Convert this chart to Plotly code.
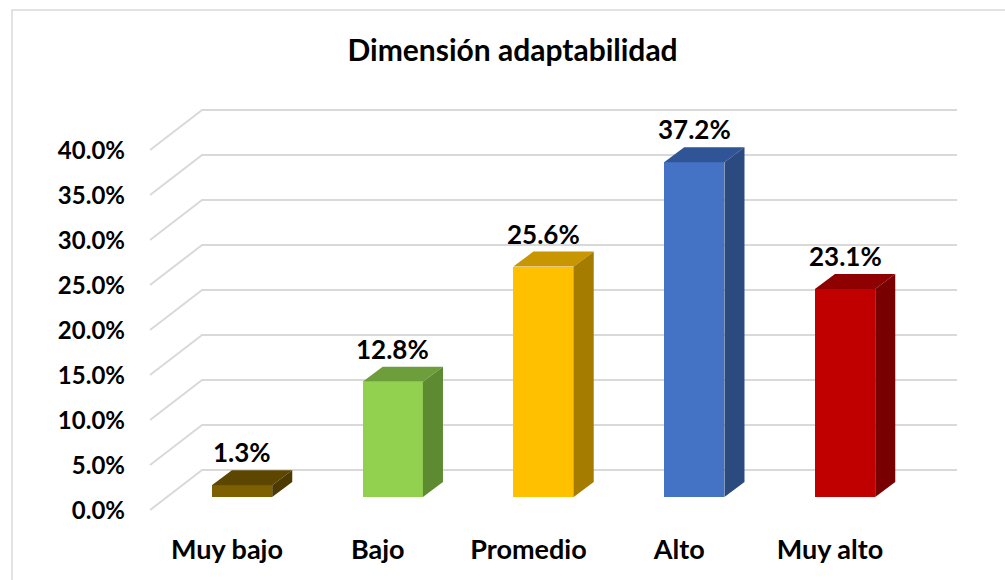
import plotly.graph_objects as go

# ---- data ----
categories = ["Muy bajo", "Bajo", "Promedio", "Alto", "Muy alto"]
values = [1.3, 12.8, 25.6, 37.2, 23.1]
y_ticks = [0, 5, 10, 15, 20, 25, 30, 35, 40]
title_text = "Dimensión adaptabilidad"

# ---- styles ----
front_colors = ["#7F6000", "#92D050", "#FFC000", "#4472C4", "#C00000"]
top_colors = ["#5C4600", "#6E9E3C", "#C89600", "#2F5597", "#8F0000"]
side_colors = ["#4D3A00", "#5E8A32", "#A67C00", "#2A4A80", "#780000"]
FONT = "Lato, 'Open Sans', sans-serif"
GRID = "#D9D9D9"

W, H = 1005, 580
ML, MR, MT, MB = 130, 30, 100, 55
BAR_W = 0.4
DX, DY = 0.133, 1.67          # depth offset (x units, % units)
XR = [-0.743, 4.862]
YR = [-3.111, 44.111]
# wall / floor geometry in data units
X_FRONT, X_BACK, X_END = -0.61, -0.265, 4.743
FRONT_OFF, BACK_OFF = -1.444, 3.0

xs = list(range(len(categories)))

fig = go.Figure()
fig.add_trace(go.Bar(
    x=xs, y=values, width=BAR_W,
    marker=dict(color=front_colors, line=dict(width=0)),
    hoverinfo="skip", showlegend=False,
))

shapes = []
# back wall gridlines with diagonal side-wall part
for t in y_ticks:
    shapes.append(dict(
        type="path", xref="x", yref="y", layer="below",
        path=f"M {X_FRONT},{t + FRONT_OFF} L {X_BACK},{t + BACK_OFF} L {X_END},{t + BACK_OFF}",
        line=dict(color=GRID, width=2),
    ))

# 3D faces of bars
for x, v, tc, sc in zip(xs, values, top_colors, side_colors):
    l, r = x - BAR_W / 2, x + BAR_W / 2
    shapes.append(dict(
        type="path", xref="x", yref="y", layer="above",
        path=f"M {l},{v} L {r},{v} L {r + DX},{v + DY} L {l + DX},{v + DY} Z",
        fillcolor=tc, line=dict(width=0),
    ))
    shapes.append(dict(
        type="path", xref="x", yref="y", layer="above",
        path=f"M {r},0 L {r},{v} L {r + DX},{v + DY} L {r + DX},{DY} Z",
        fillcolor=sc, line=dict(width=0),
    ))

# chart border
pw, ph = W - ML - MR, H - MT - MB
def px_x(p):
    return (p - ML) / pw
def px_y(p):
    return (H - MB - p) / ph
shapes.append(dict(
    type="rect", xref="paper", yref="paper", layer="below",
    x0=px_x(12), x1=px_x(W + 10), y0=px_y(H + 10), y1=px_y(10),
    line=dict(color=GRID, width=1.5), fillcolor="rgba(0,0,0,0)",
))

annotations = []
for x, v in zip(xs, values):
    annotations.append(dict(
        x=x, y=v + DY, xref="x", yref="y", text=f"{v:.1f}%",
        showarrow=False, yanchor="bottom", xanchor="center", yshift=0,
        font=dict(family=FONT, size=26, color="#000000", weight="bold"),
    ))

fig.update_layout(
    width=W, height=H,
    margin=dict(l=ML, r=MR, t=MT, b=MB),
    paper_bgcolor="white", plot_bgcolor="white",
    title=dict(
        text=f"<b>{title_text}</b>", x=0.510, xanchor="center",
        y=1 - 50 / H, yanchor="middle", yref="container",
        font=dict(family=FONT, size=30, color="#000000"),
    ),
    shapes=shapes, annotations=annotations,
    xaxis=dict(
        range=XR, showgrid=False, zeroline=False, showline=False,
        tickmode="array", tickvals=[x - 0.1 for x in xs], ticktext=categories,
        ticks="", ticklabelstandoff=6,
        tickfont=dict(family=FONT, size=27, color="#000000", weight="bold"),
        fixedrange=True,
    ),
    yaxis=dict(
        range=YR, showgrid=False, zeroline=False, showline=False,
        tickmode="array", tickvals=[t - 1.5 for t in y_ticks],
        ticktext=[f"{t:.1f}%" for t in y_ticks],
        ticks="", ticklabelstandoff=4,
        tickfont=dict(family=FONT, size=24, color="#000000", weight="bold"),
        fixedrange=True,
    ),
    bargap=0,
)

fig.write_html(
    "out.html",
    config={"displayModeBar": False, "staticPlot": True},
    post_script="document.body.style.margin='0px';",
)
